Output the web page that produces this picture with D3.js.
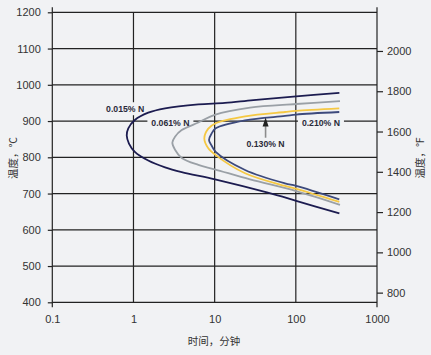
<!DOCTYPE html>
<html>
<head>
<meta charset="utf-8">
<script src="https://cdn.jsdelivr.net/npm/d3@7"></script>
<style>
  html, body { margin: 0; padding: 0; background: #f1f2f4; }
  svg { display: block; }
  .tick text { font-family: "Liberation Sans Narrow", "Arial Narrow", "Liberation Sans", Arial, sans-serif; font-size: 11px; fill: #333; }
</style>
</head>
<body>
<svg id="chart" width="431" height="355"></svg>
<script>
// ---- data (time in minutes, temperature in °C) ----
const timeTicks = [0.1, 1, 10, 100, 1000];
const tempTicksC = [400, 500, 600, 700, 800, 900, 1000, 1100, 1200];
const tempTicksF = [800, 1000, 1200, 1400, 1600, 1800, 2000];

const n015 = [[344,978],[101,968],[30,958],[13.4,950],[6.3,946],[2.45,935],[1.52,923],[1.04,903],[0.863,880],[0.826,860],[0.88,838],[1.04,815],[1.52,791],[2.45,772],[3.93,759],[10.1,739],[44,703],[101,680],[344,645]];
const n061 = [[350,955],[101,947],[27.3,937],[10,917],[6.3,896],[3.93,875],[3.25,857],[3.01,840],[3.25,821],[3.93,798],[6.3,779],[10,767],[27.3,739],[101,707],[350,669]];
const n130 = [[343,935],[101,928],[73.6,925],[23.7,913],[10.3,894],[8.35,879],[7.46,852],[8.35,825],[10.3,806],[23.7,756],[73.6,721],[101,713],[343,677]];
const n210 = [[343,925],[101,918],[73.6,914],[23.7,902],[10.3,880],[9.2,866],[8.52,848],[9.2,832],[10.3,815],[23.7,765],[73.6,728],[101,721],[343,684]];

const seriesNames = ["0.015% N", "0.061% N", "0.130% N", "0.210% N"];
const seriesData = [n015, n061, n130, n210];
const seriesColors = ["#1c1c50", "#9aa0a6", "#f5c843", "#3d4a7c"];

// ---- layout ----
const svg = d3.select("#chart");
const L = 52.3, R = 377, T = 12.3, B = 302.3;
const x = d3.scaleLog().domain([0.1, 1000]).range([L, R]);
const y = d3.scaleLinear().domain([400, 1200]).range([B, T]);
const yF = d3.scaleLinear().domain([400 * 9 / 5 + 32, 1200 * 9 / 5 + 32]).range([B, T]);
const gridColor = "#222";
const bg = "#f1f2f4";

// horizontal grid lines
svg.append("g").selectAll("line").data(tempTicksC).join("line")
  .attr("x1", L).attr("x2", R)
  .attr("y1", d => y(d)).attr("y2", d => y(d))
  .attr("stroke", gridColor).attr("stroke-width", 1.2);
// vertical grid lines
svg.append("g").selectAll("line").data(timeTicks.slice(1, -1)).join("line")
  .attr("x1", d => x(d)).attr("x2", d => x(d))
  .attr("y1", T).attr("y2", B)
  .attr("stroke", gridColor).attr("stroke-width", 1.2);
// axis frame lines (extend slightly)
svg.append("line").attr("x1", L).attr("x2", L).attr("y1", T - 5).attr("y2", B + 5)
  .attr("stroke", gridColor).attr("stroke-width", 1.2);
svg.append("line").attr("x1", R).attr("x2", R).attr("y1", T - 5).attr("y2", B + 5)
  .attr("stroke", gridColor).attr("stroke-width", 1.2);

// left axis
const gl = svg.append("g").attr("transform", `translate(${L},0)`)
  .call(d3.axisLeft(y).tickValues(tempTicksC).tickSize(4.5).tickPadding(7).tickFormat(d3.format("d")));
gl.select(".domain").remove();
gl.selectAll(".tick line").attr("stroke", gridColor).attr("stroke-width", 1.2);

// right axis (°F)
const gr = svg.append("g").attr("transform", `translate(${R},0)`)
  .call(d3.axisRight(yF).tickValues(tempTicksF).tickSize(6).tickPadding(4).tickFormat(d3.format("d")));
gr.select(".domain").remove();
gr.selectAll(".tick line").attr("stroke", gridColor).attr("stroke-width", 1.2);

// bottom axis
const gb = svg.append("g").attr("transform", `translate(0,${B})`)
  .call(d3.axisBottom(x).tickValues(timeTicks).tickSize(0).tickPadding(13).tickFormat(d3.format("~g")));
gb.select(".domain").remove();

// axis titles
const titleFont = '"Noto Sans CJK SC", "Noto Sans", sans-serif';
svg.append("text").attr("x", 214).attr("y", 340).attr("text-anchor", "middle")
  .attr("dominant-baseline", "central")
  .style("font-family", titleFont).style("font-size", "10.5px").attr("fill", "#333")
  .text("时间，分钟");
svg.append("text").attr("transform", "translate(12.7,158) rotate(-90)").attr("text-anchor", "middle")
  .attr("dominant-baseline", "central")
  .style("font-family", titleFont).style("font-size", "10.5px").attr("fill", "#333")
  .text("温度，℃");
svg.append("text").attr("transform", "translate(419.5,158) rotate(-90)").attr("text-anchor", "middle")
  .attr("dominant-baseline", "central")
  .style("font-family", titleFont).style("font-size", "10.5px").attr("fill", "#333")
  .text("温度，°F");

// label positions (data coords) + background masks
const labelFont = '"Liberation Sans", Arial, sans-serif';
const labels = [
  { text: seriesNames[0], t: 0.79, temp: 934 },
  { text: seriesNames[1], t: 2.85, temp: 896 },
  { text: seriesNames[3], t: 204, temp: 896 },
  { text: seriesNames[2], t: 42.4, temp: 838 }
];
labels.slice(0, 3).forEach(l => {
  const cx = x(l.t), cy = y(l.temp);
  svg.append("rect").attr("x", cx - 23).attr("y", cy - 6.5)
    .attr("width", 46).attr("height", 13)
    .attr("fill", bg);
});

// curves
const line = d3.line().x(d => x(d[0])).y(d => y(d[1])).curve(d3.curveCatmullRom.alpha(0.5));
svg.append("g").selectAll("path").data(seriesData).join("path")
  .attr("d", d => line(d))
  .attr("fill", "none")
  .attr("stroke", (d, i) => seriesColors[i])
  .attr("stroke-width", 1.8);

labels.forEach(l => {
  svg.append("text").attr("x", x(l.t)).attr("y", y(l.temp))
    .attr("text-anchor", "middle").attr("dominant-baseline", "central")
    .style("font-family", labelFont).style("font-size", "8.7px").style("font-weight", "bold")
    .attr("fill", "#2a2a3a").text(l.text);
});

// arrow for 0.130% N
const ax = x(42.4);
svg.append("line").attr("x1", ax).attr("x2", ax).attr("y1", y(854)).attr("y2", y(886))
  .attr("stroke", "#8c8c8c").attr("stroke-width", 1.6);
svg.append("path")
  .attr("d", `M${ax},${y(910)} L${ax - 3},${y(885)} L${ax + 3},${y(885)} Z`)
  .attr("fill", "#222");
</script>
</body>
</html>
